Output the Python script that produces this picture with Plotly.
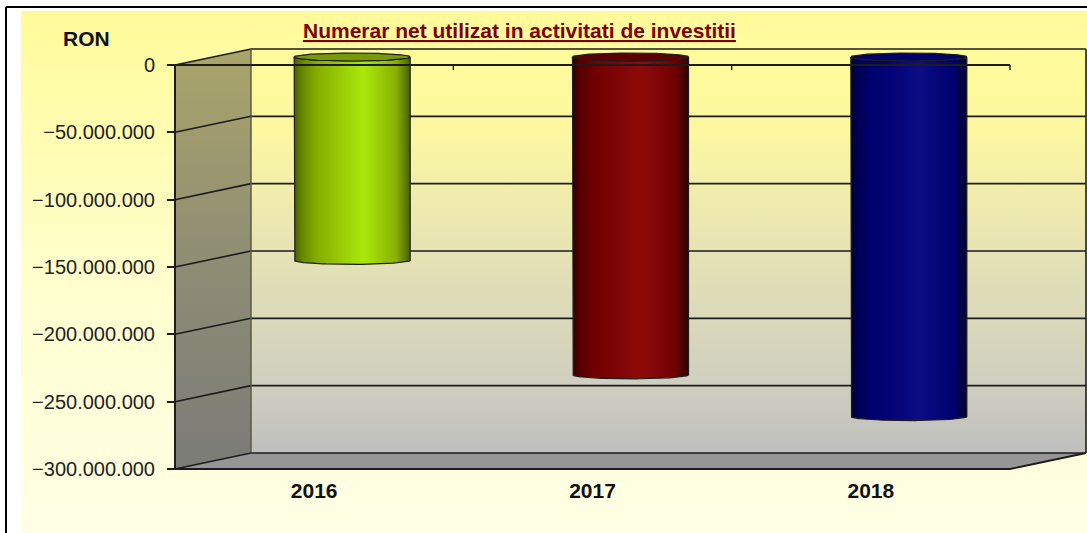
import numpy as np
import plotly.graph_objects as go

# ---- data ----
categories = ["2016", "2017", "2018"]
values = [-151000000, -236000000, -267000000]
tick_values = [0, -50000000, -100000000, -150000000, -200000000, -250000000, -300000000]
tick_labels = ["0", "\u221250.000.000", "\u2212100.000.000", "\u2212150.000.000",
               "\u2212200.000.000", "\u2212250.000.000", "\u2212300.000.000"]
title_text = "Numerar net utilizat in activitati de investitii"
unit_text = "RON"

# ---- styles ----
bar_scales = [
    [[0, "#4a6000"], [0.07, "#668800"], [0.2, "#86ae00"], [0.6, "#aae80c"], [0.88, "#88b000"], [1, "#4a6000"]],
    [[0, "#300000"], [0.07, "#580000"], [0.2, "#720000"], [0.6, "#8e0a0a"], [0.88, "#720000"], [1, "#300000"]],
    [[0, "#000030"], [0.07, "#000058"], [0.2, "#000070"], [0.6, "#0c0c84"], [0.88, "#000070"], [1, "#000030"]],
]
cap_colors = ["#77990a", "#5e0000", "#000068"]

W, H = 1087, 533
F_L, F_R, F_T, F_B = 175, 1010, 65, 469      # front plane of the chart, in pixels
XMIN, XMAX = -0.5, 2.5
YMIN, YMAX = -300000000, 0
ux = (F_R - F_L) / (XMAX - XMIN)   # px per x unit
uy = (F_B - F_T) / (YMAX - YMIN)   # px per y unit


def X(px):
    return XMIN + (px - F_L) / ux


def Y(py):
    return YMAX - (py - F_T) / uy


DX, DY = 76 / ux, 16 / uy   # depth offset
LINE = "#1c1c1c"
traces = []


def poly(xs, ys, **kw):
    traces.append(go.Scatter(x=list(xs), y=list(ys), mode="lines", fill="toself",
                             hoverinfo="skip", showlegend=False, **kw))


def seg(xs, ys, color=LINE, width=1.6):
    traces.append(go.Scatter(x=list(xs), y=list(ys), mode="lines", hoverinfo="skip",
                             showlegend=False, line=dict(color=color, width=width)))


# outer panel
poly([X(21), X(W), X(W), X(21)], [Y(11), Y(11), Y(H), Y(H)],
     line=dict(width=0),
     fillgradient=dict(type="vertical",
                       colorscale=[[0, "#ffffe6"], [0.45, "#ffffd0"], [1, "#fffb9a"]]))
seg([X(6), X(6), None, X(6), X(W)], [Y(H), Y(7), None, Y(7), Y(7)], color="#000000", width=2)

# left wall
poly([XMIN, XMIN + DX, XMIN + DX, XMIN], [YMAX, YMAX + DY, YMIN + DY, YMIN],
     line=dict(width=0),
     fillgradient=dict(type="vertical",
                       colorscale=[[0, "#7b7b78"], [0.5, "#8f8d74"], [1, "#aaa56a"]]))
# back wall
poly([XMIN + DX, XMAX + DX, XMAX + DX, XMIN + DX], [YMAX + DY, YMAX + DY, YMIN + DY, YMIN + DY],
     line=dict(width=0),
     fillgradient=dict(type="vertical",
                       colorscale=[[0, "#bfbfbf"], [0.17, "#cfcfc0"], [0.5, "#e6e3b5"],
                                   [0.8, "#fdf8a0"], [1, "#fffb9a"]]))
# floor
poly([XMIN, XMIN + DX, XMAX + DX, XMAX], [YMIN, YMIN + DY, YMIN + DY, YMIN],
     line=dict(width=0), fillcolor="#969696")

# grid lines: on back wall and on the left wall
for t in tick_values:
    seg([XMIN, XMIN + DX, XMAX + DX], [t, t + DY, t + DY])
seg([XMIN + DX, XMIN + DX], [YMAX + DY, YMIN + DY], color="#55553a", width=1.4)
seg([XMAX + DX, XMAX + DX], [YMAX + DY, YMIN + DY], color=LINE, width=1.6)
seg([XMIN, XMIN], [YMAX, YMIN], color=LINE, width=2)
seg([XMIN, XMAX, XMAX + DX], [YMIN, YMIN, YMIN + DY], color=LINE, width=1.8)

# cylinders
HALF = 58 / ux
EH = 4 / uy
th = np.linspace(np.pi, 2 * np.pi, 61)   # front half of the ellipse, left to right
for i, v in enumerate(values):
    cx = i + DX / 2
    ztop = DY / 2
    zbot = v + DY / 2
    ex = cx + HALF * np.cos(th)
    ey = EH * np.sin(th)
    xs = np.concatenate([[cx - HALF], ex, [cx + HALF], ex[::-1], [cx - HALF]])
    ys = np.concatenate([[ztop], zbot + ey, [ztop], ztop + ey[::-1], [ztop]])
    poly(xs, ys, line=dict(color=LINE, width=1.2),
         fillgradient=dict(type="horizontal", colorscale=bar_scales[i]))
    t2 = np.linspace(0, 2 * np.pi, 121)
    poly(cx + HALF * np.cos(t2), ztop + EH * np.sin(t2),
         line=dict(color=LINE, width=1.2), fillcolor=cap_colors[i])

# front zero line with its ticks, over the cylinders
seg([XMIN, XMAX], [0, 0], color=LINE, width=1.8)
tk = 5 / uy
for k in [0.5, 1.5, 2.5]:
    seg([k, k], [0, -tk], color=LINE, width=1.4)

fig = go.Figure(traces)
fig.update_layout(
    width=W, height=H, autosize=False,
    margin=dict(l=0, r=0, t=0, b=0, pad=0),
    paper_bgcolor="#ffffff", plot_bgcolor="rgba(0,0,0,0)",
    showlegend=False,
    font=dict(family="Liberation Sans, Arial, sans-serif", color="#111111"),
    annotations=[
        dict(text="<b><u>" + title_text + "</u></b>", xref="paper", yref="paper",
             x=519 / W, y=1 - 30 / H, xanchor="center", yanchor="middle",
             showarrow=False, font=dict(size=21, color="#7f0000")),
        dict(text="<b>" + unit_text + "</b>", xref="paper", yref="paper",
             x=86 / W, y=1 - 39 / H, xanchor="center", yanchor="middle",
             showarrow=False, font=dict(size=21, color="#111111")),
    ],
)
fig.update_xaxes(range=[X(0), X(W)], domain=[0, 1], anchor="free", position=1 - F_B / H,
                 tickmode="array", tickvals=[0, 1, 2],
                 ticktext=["<b>" + c + "</b>" for c in categories],
                 showgrid=False, zeroline=False, showline=False, ticks="", ticklabelstandoff=7,
                 tickfont=dict(size=21, color="#111111"), fixedrange=True)
fig.update_yaxes(range=[Y(H), Y(0)], domain=[0, 1], anchor="free", position=F_L / W,
                 tickmode="array", tickvals=tick_values, ticktext=tick_labels,
                 showgrid=False, zeroline=False, showline=False,
                 ticks="outside", ticklen=8, tickwidth=1.6, tickcolor=LINE,
                 ticklabelstandoff=8,
                 tickfont=dict(size=20, color="#222222"), fixedrange=True)

fig.write_html("out.html", config={"displayModeBar": False},
               post_script="document.body.style.margin='0';document.body.style.overflow='hidden';")
